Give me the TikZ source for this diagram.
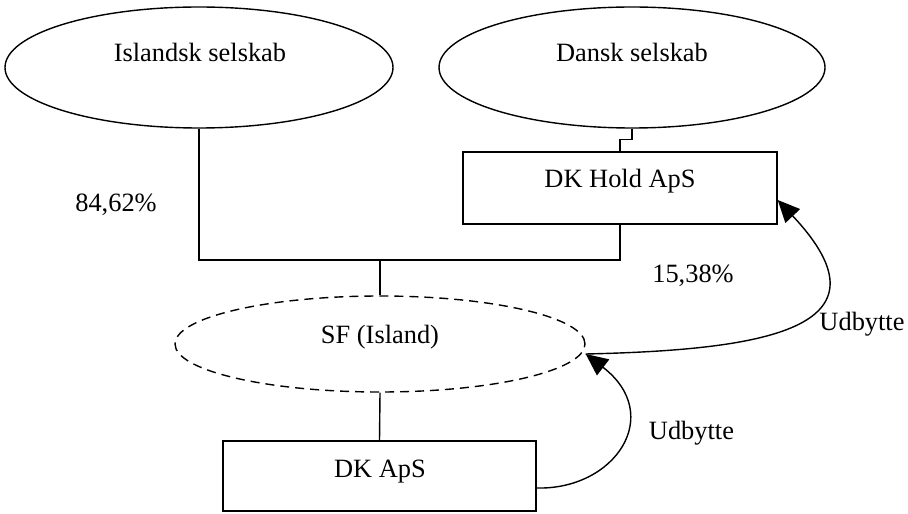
\documentclass[tikz,border=0pt]{standalone}
\usepackage{fontspec}
\setmainfont{Liberation Serif}
\usetikzlibrary{shapes.geometric,arrows.meta}

\begin{document}
\begin{tikzpicture}[x=0.5pt,y=-0.5pt,line width=0.7pt,
  every node/.style={font=\fontsize{13.2}{16}\selectfont},
  owner/.style={draw,ellipse,inner sep=0pt,minimum height=60.5pt},
  company/.style={draw,rectangle,inner sep=0pt},
  txt/.style={anchor=base,inner sep=0pt},
  flow/.style={-{Triangle[length=11pt,width=10pt]}}]
  \useasboundingbox (0,0) rectangle (908,513);

  % shapes
  \node[owner,minimum width=194pt] (isl) at (199,67.5) {};
  \node[owner,minimum width=193pt] (dan) at (632,67.5) {};
  \node[company,minimum width=157pt,minimum height=36pt] (hold) at (620,188) {};
  \node[owner,dashed,dash pattern=on 4.5pt off 3pt,minimum width=205pt,minimum height=48pt] (sf) at (380,344) {};
  \node[company,minimum width=156.5pt,minimum height=35pt] (aps) at (379.5,476) {};

  % texts
  \node[txt] (islname) at (200,62) {Islandsk selskab};
  \node[txt] (danname) at (632,62) {Dansk selskab};
  \node[txt] (holdname) at (620,188) {DK Hold ApS};
  \node[txt] (sfname) at (380,343) {SF (Island)};
  \node[txt] (apsname) at (380,477) {DK ApS};
  \node[txt] (pctisl) at (116,212) {84,62\%};
  \node[txt] (pctdk) at (693,282) {15,38\%};
  \node[txt] (divhold) at (862,330) {Udbytte};
  \node[txt] (divaps) at (691.5,439) {Udbytte};

  % ownership lines
  \coordinate (join) at (380,260);
  \draw (isl.south) |- (join) -| (hold.south);
  \draw (join) -- (sf.north);
  \draw (dan.south) -- ++(0,11) -| (hold.north);
  \draw (sf.south) -- (aps.north);

  % dividends
  \draw[flow] ([yshift=-6pt]aps.east) .. controls (615,490) and (665,415) .. ([yshift=-5pt]sf.east);
  \draw[flow] ([yshift=-5pt]sf.east) .. controls (760,350) and (900,330) .. ([yshift=-6pt]hold.east);
\end{tikzpicture}
\end{document}
